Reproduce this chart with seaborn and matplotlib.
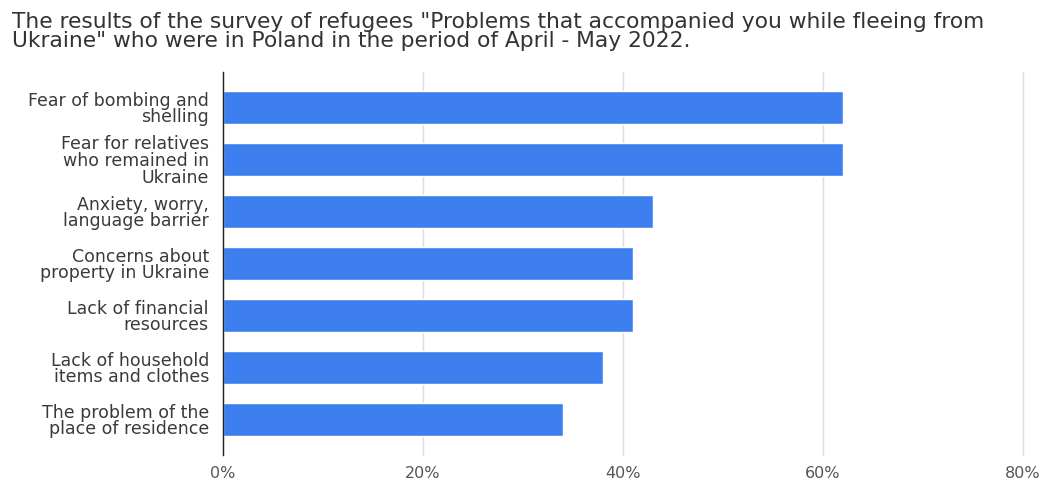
import matplotlib
matplotlib.use("Agg")
import matplotlib.pyplot as plt
import seaborn as sns
import pandas as pd
from matplotlib.ticker import FuncFormatter

categories = [
    "Fear of bombing and\nshelling",
    "Fear for relatives\nwho remained in\nUkraine",
    "Anxiety, worry,\nlanguage barrier",
    "Concerns about\nproperty in Ukraine",
    "Lack of financial\nresources",
    "Lack of household\nitems and clothes",
    "The problem of the\nplace of residence",
]
values = [62, 62, 43, 41, 41, 38, 34]
x_ticks = [0, 20, 40, 60, 80]
title = ('The results of the survey of refugees "Problems that accompanied you while fleeing from\n'
         'Ukraine" who were in Poland in the period of April - May 2022.')

df = pd.DataFrame({"category": categories, "value": values})

sns.set_theme(style="white")
plt.rcParams["font.family"] = "sans-serif"
plt.rcParams["font.sans-serif"] = ["DejaVu Sans"]

fig = plt.figure(figsize=(10.46, 4.83), dpi=100)
ax = fig.add_axes([0.213, 0.058, 0.765, 0.792])

sns.barplot(data=df, x="value", y="category", orient="h", color="#3d7fef",
            saturation=1, width=0.64, ax=ax)

ax.set_xlim(0, 80)
ax.set_xticks(x_ticks)
ax.xaxis.set_major_formatter(FuncFormatter(lambda v, p: f"{v:.0f}%"))
ax.set_xlabel("")
ax.set_ylabel("")
ax.set_ylim(6.68, -0.68)
ax.grid(axis="x", color="#dddddd", linewidth=1)
ax.set_axisbelow(True)
for gl in ax.get_xgridlines():
    gl.set_clip_on(False)
for s in ["top", "right", "bottom"]:
    ax.spines[s].set_visible(False)
ax.spines["left"].set_color("#222222")
ax.spines["left"].set_linewidth(1)
ax.tick_params(axis="both", length=0)
ax.tick_params(axis="y", labelsize=12.5, labelcolor="#3a3a3a", pad=10)
ax.tick_params(axis="x", labelsize=11.5, labelcolor="#555555", pad=8)
for lbl in ax.get_yticklabels():
    lbl.set_linespacing(0.9)

fig.text(0.011, 0.975, title, ha="left", va="top", fontsize=15.7, color="#333333",
         linespacing=0.93)

fig.savefig("out.png", dpi=100, facecolor="white")
